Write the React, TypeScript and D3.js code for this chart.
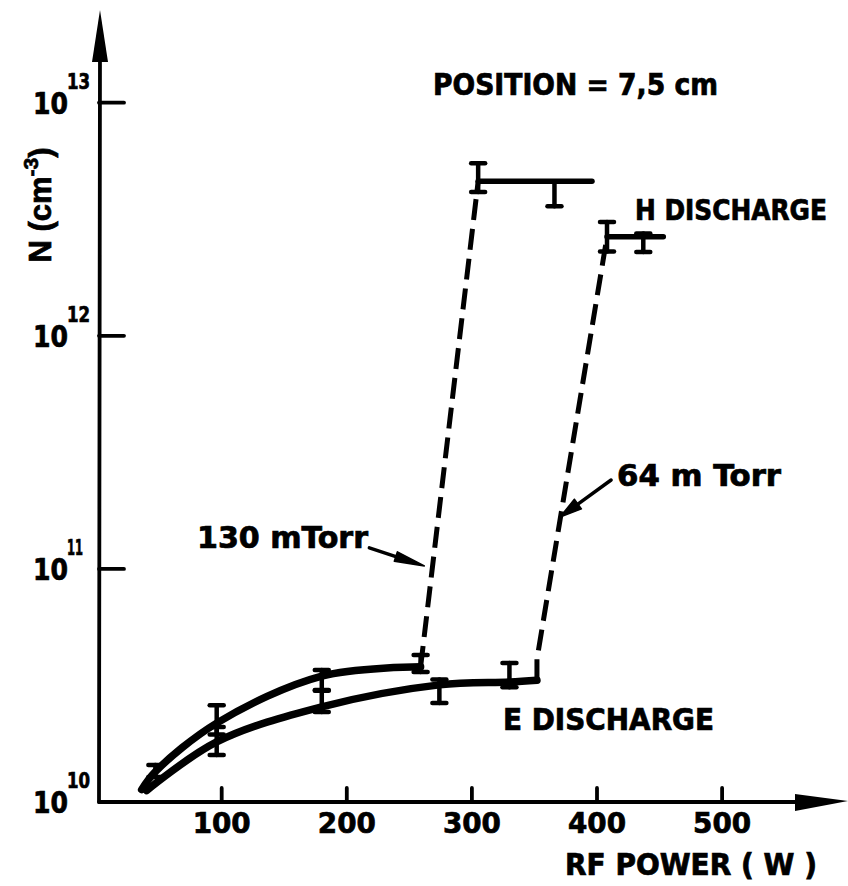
import React from 'react';
import * as d3 from 'd3';

const WIDTH = 848;
const HEIGHT = 886;

// Axis ticks
const powerTicks = [100, 200, 300, 400, 500];
const densityTicks = [1e10, 1e11, 1e12, 1e13];
const densityExponents = ['10', '11', '12', '13'];

// E discharge, 130 mTorr
const ePower130 = [36, 47, 96, 180, 259];
const eDensity130 = [1.13e10, 1.35e10, 2.18e10, 3.47e10, 3.8e10];
const eErrLow130 = [null, 1.28e10, 1.95e10, 3.02e10, 3.61e10];
const eErrHigh130 = [null, 1.44e10, 2.6e10, 3.68e10, 4.27e10];

// E discharge, 64 mTorr
const ePower64 = [40, 96, 180, 274, 330, 352];
const eDensity64 = [1.12e10, 1.81e10, 2.56e10, 3.18e10, 3.27e10, 3.33e10];
const eErrLow64 = [null, 1.59e10, 2.43e10, 2.66e10, 3.11e10, null];
const eErrHigh64 = [null, 2.1e10, 3.0e10, 3.35e10, 3.95e10, null];

// H discharge, 130 mTorr
const hPower130 = [305, 366, 396];
const hDensity130 = [4.6e12, 4.6e12, 4.6e12];
const hErrLow130 = [4.14e12, 3.6e12, null];
const hErrHigh130 = [5.5e12, 4.6e12, null];

// H discharge, 64 mTorr
const hPower64 = [408, 437, 453];
const hDensity64 = [2.66e12, 2.66e12, 2.66e12];
const hErrLow64 = [2.3e12, 2.29e12, null];
const hErrHigh64 = [3.08e12, 2.75e12, null];

// E -> H jumps
const jumpPower130 = [259, 305];
const jumpDensity130 = [3.8e10, 4.6e12];
const jumpPower64 = [352, 352, 408];
const jumpDensity64 = [3.33e10, 4.1e10, 2.66e12];

const FONT = "'Liberation Sans Narrow','DejaVu Sans Condensed','Liberation Sans',sans-serif";
const INK = '#000';

const x = d3.scaleLinear().domain([0, 600]).range([96.6, 847.2]);
const y = d3.scaleLog().domain([1e10, 1e13]).range([802, 102.7]);

const zip = (p: number[], n: number[]) => p.map((v, i) => [v, n[i]] as [number, number]);

const smooth = d3
  .line<[number, number]>()
  .x((d) => x(d[0]))
  .y((d) => y(d[1]))
  .curve(d3.curveCatmullRom.alpha(0.5));

const straight = d3
  .line<[number, number]>()
  .x((d) => x(d[0]))
  .y((d) => y(d[1]));

function ErrorBars({ power, low, high }: { power: number[]; low: (number | null)[]; high: (number | null)[] }) {
  return (
    <g stroke={INK} strokeWidth={4.5} strokeLinecap="round">
      {power.map((p, i) => {
        const lo = low[i];
        const hi = high[i];
        if (lo == null || hi == null) return null;
        const cx = x(p);
        return (
          <g key={i}>
            <line x1={cx} x2={cx} y1={y(lo)} y2={y(hi)} />
            <line x1={cx - 7} x2={cx + 7} y1={y(lo)} y2={y(lo)} />
            <line x1={cx - 7} x2={cx + 7} y1={y(hi)} y2={y(hi)} />
          </g>
        );
      })}
    </g>
  );
}

function Label({
  x: lx,
  y: ly,
  text,
  size,
  length,
  anchor = 'start',
}: {
  x: number;
  y: number;
  text: string;
  size: number;
  length?: number;
  anchor?: 'start' | 'middle' | 'end';
}) {
  return (
    <text
      x={lx}
      y={ly}
      fontFamily={FONT}
      fontWeight="bold"
      fontSize={size}
      textAnchor={anchor}
      textLength={length}
      lengthAdjust="spacingAndGlyphs"
      fill={INK}
      stroke={INK}
      strokeWidth={0.7}
    >
      {text}
    </text>
  );
}

function Arrow({ tip, tail, headLen, headHalf }: { tip: [number, number]; tail: [number, number]; headLen: number; headHalf: number }) {
  const dx = tip[0] - tail[0];
  const dy = tip[1] - tail[1];
  const len = Math.hypot(dx, dy);
  const ux = dx / len;
  const uy = dy / len;
  const bx = tip[0] - ux * headLen;
  const by = tip[1] - uy * headLen;
  const pts = [
    [tip[0], tip[1]],
    [bx - uy * headHalf, by + ux * headHalf],
    [bx + uy * headHalf, by - ux * headHalf],
  ];
  return (
    <g>
      <line x1={tail[0]} y1={tail[1]} x2={bx} y2={by} stroke={INK} strokeWidth={3.5} strokeLinecap="round" />
      <polygon points={pts.map((p) => p.join(',')).join(' ')} fill={INK} stroke={INK} strokeWidth={1.5} strokeLinejoin="round" />
    </g>
  );
}

export default function App() {
  const axisX = 99;
  const axisY = y(1e10);

  const tip130: [number, number] = [x(262), y(1.03e11)];
  const tip64: [number, number] = [x(370.5), y(1.67e11)];

  return (
    <svg
      width={WIDTH}
      height={HEIGHT}
      viewBox={`0 0 ${WIDTH} ${HEIGHT}`}
      style={{ position: 'absolute', left: 0, top: 0, background: '#fff' }}
    >
      <rect width={WIDTH} height={HEIGHT} fill="#fff" />

      {/* axes */}
      <g stroke={INK} strokeWidth={3.8} strokeLinecap="round">
        <line x1={axisX} y1={axisY} x2={axisX + 1} y2={40} />
        <line x1={axisX} y1={axisY} x2={805} y2={axisY} />
        {densityTicks.slice(1).map((t) => (
          <line key={t} x1={axisX} x2={axisX + 25} y1={y(t)} y2={y(t)} />
        ))}
        {powerTicks.map((t) => (
          <line key={t} x1={x(t)} x2={x(t)} y1={axisY} y2={axisY - 14} />
        ))}
      </g>
      <polygon points={`${axisX + 1},10 ${axisX - 7},62 ${axisX + 9},62`} fill={INK} />
      <polygon points={`795,${axisY - 8} 795,${axisY + 9} 848,${axisY - 1}`} fill={INK} />

      {/* y tick labels */}
      {densityTicks.map((t, i) => (
        <g key={t}>
          <Label x={68} y={y(t) + 11} text="10" size={31} length={35} anchor="end" />
          <Label x={67} y={y(t) - 14} text={densityExponents[i]} size={21} length={i === 1 ? 16 : 23} />
        </g>
      ))}

      {/* x tick labels */}
      {powerTicks.map((t) => (
        <Label key={t} x={x(t)} y={833} text={String(t)} size={29} length={58} anchor="middle" />
      ))}

      {/* axis titles */}
      <Label x={565} y={875} text="RF  POWER ( W )" size={30} length={252} />
      <text
        transform="translate(51,205) rotate(-90)"
        fontFamily="'Liberation Sans','DejaVu Sans',sans-serif"
        fontWeight="bold"
        fontSize={31}
        textAnchor="middle"
        fill={INK}
        stroke={INK}
        strokeWidth={0.7}
      >
        N (cm
        <tspan dy={-13} fontSize={21}>
          -3
        </tspan>
        <tspan dy={13}>)</tspan>
      </text>

      {/* E discharge curves */}
      <g fill="none" stroke={INK} strokeWidth={7.5} strokeLinecap="round" strokeLinejoin="round">
        <path d={smooth(zip(ePower130, eDensity130)) || ''} />
        <path d={smooth(zip(ePower64, eDensity64)) || ''} />
      </g>
      <ErrorBars power={ePower130} low={eErrLow130} high={eErrHigh130} />
      <ErrorBars power={ePower64} low={eErrLow64} high={eErrHigh64} />

      {/* transitions */}
      <g fill="none" stroke={INK} strokeWidth={5} strokeDasharray="21 9">
        <path d={straight(zip(jumpPower130, jumpDensity130)) || ''} />
        <path d={straight(zip(jumpPower64, jumpDensity64)) || ''} />
      </g>

      {/* H discharge */}
      <g fill="none" stroke={INK} strokeWidth={5.5} strokeLinecap="round">
        <path d={straight(zip(hPower130, hDensity130)) || ''} />
        <path d={straight(zip(hPower64, hDensity64)) || ''} />
      </g>
      <ErrorBars power={hPower130} low={hErrLow130} high={hErrHigh130} />
      <ErrorBars power={hPower64} low={hErrLow64} high={hErrHigh64} />

      {/* annotations */}
      <Label x={433} y={95} text="POSITION = 7,5 cm" size={30} length={285} />
      <Label x={635} y={220} text="H DISCHARGE" size={28} length={192} />
      <Label x={503} y={730} text="E DISCHARGE" size={30} length={211} />
      <Label x={197} y={548} text="130 mTorr" size={30} length={171} />
      <Label x={617} y={486} text="64 m Torr" size={30} length={164} />
      <Arrow tip={tip130} tail={[tip130[0] - 55, tip130[1] - 18]} headLen={30} headHalf={5} />
      <Arrow tip={tip64} tail={[tip64[0] + 51, tip64[1] - 37]} headLen={22} headHalf={6} />
    </svg>
  );
}
